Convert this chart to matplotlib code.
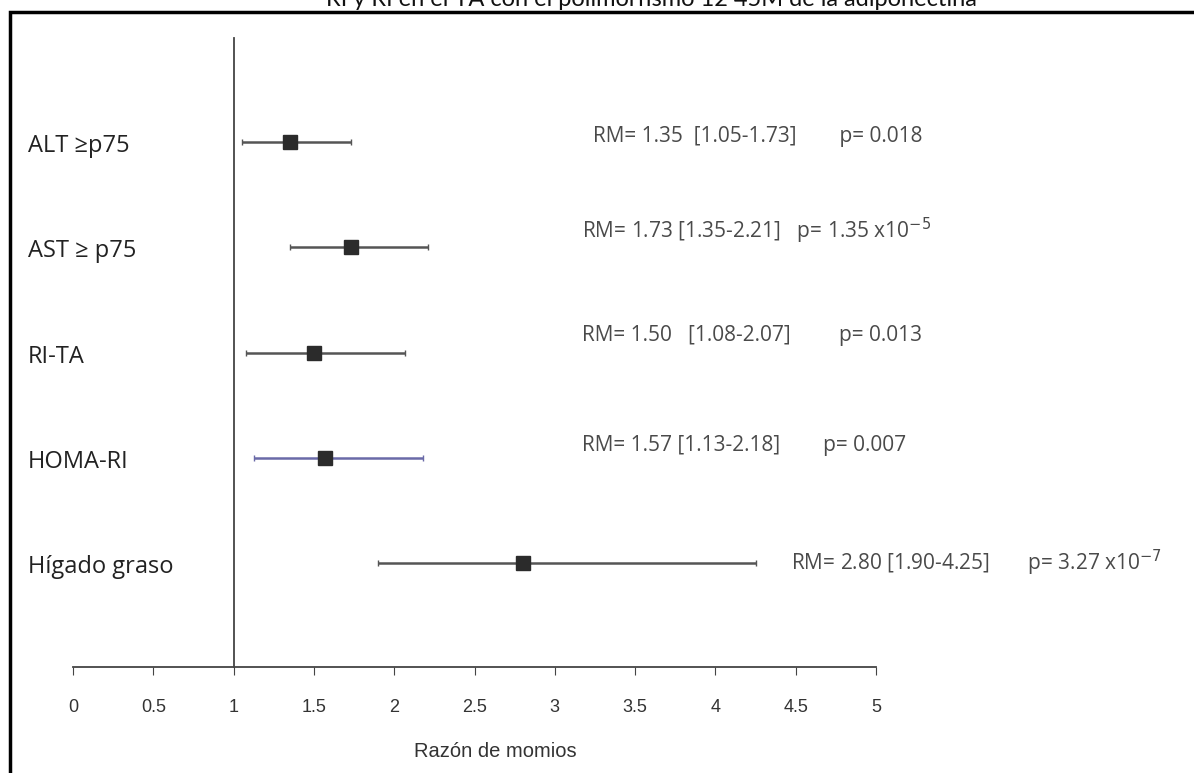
import matplotlib.pyplot as plt
from matplotlib.patches import Rectangle

# %%
labels = ['ALT \u2265p75', 'AST \u2265 p75', 'RI-TA', 'HOMA-RI', 'H\u00edgado graso']
rm = [1.35, 1.73, 1.50, 1.57, 2.80]
lo = [1.05, 1.35, 1.08, 1.13, 1.90]
hi = [1.73, 2.21, 2.07, 2.18, 4.25]
notes = ['RM= 1.35  [1.05-1.73]' + ' ' * 8 + 'p= 0.018',
         'RM= 1.73 [1.35-2.21]   p= 1.35 x10$^{-5}$',
         'RM= 1.50   [1.08-2.07]' + ' ' * 9 + 'p= 0.013',
         'RM= 1.57 [1.13-2.18]' + ' ' * 8 + 'p= 0.007',
         'RM= 2.80 [1.90-4.25]' + ' ' * 7 + 'p= 3.27 x10$^{-7}$']
ticks = [0, 0.5, 1, 1.5, 2, 2.5, 3, 3.5, 4, 4.5, 5]
tick_labels = ['0', '0.5', '1', '1.5', '2', '2.5', '3', '3.5', '4', '4.5', '5']

# pixel layout of the original picture
W, H = 1194, 773
px0, pxu = 73, 160.6      # pixel of x=0, pixels per unit
py0, pyu = 142, 105.25    # pixel of first row, pixels per row

fig = plt.figure(figsize=(W / 100, H / 100), dpi=100)
ax = fig.add_axes([0, 0, 1, 1])
ax.set_xlim(-px0 / pxu, (W - px0) / pxu)
ax.set_ylim((H - py0) / pyu, -py0 / pyu)
ax.patch.set_alpha(0)

rows = list(range(len(labels)))
line_cols = ['#555555', '#555555', '#555555', '#6a6aa8', '#555555']
for i in rows:
    ax.errorbar(rm[i], i, xerr=[[rm[i] - lo[i]], [hi[i] - rm[i]]], fmt='s',
                color='#2b2b2b', ecolor=line_cols[i], elinewidth=1.8, capsize=2,
                markersize=10)
    ax.text(-0.28, i + 0.04, labels[i], fontsize=17, family='Open Sans', color='#222222',
            va='center', ha='left')

note_x = [3.24, 3.17, 3.17, 3.17, 4.47]
note_dy = [-0.05, -0.16, -0.16, -0.12, 0.0]
for i in rows:
    ax.text(note_x[i], i + note_dy[i], notes[i], fontsize=15, family='Open Sans',
            color='#4a4a4a', va='center', ha='left')

# axes lines
axis_y = (667 - py0) / pyu
ax.spines[['top', 'right']].set_visible(False)
ax.spines['bottom'].set_position(('data', axis_y))
ax.spines['bottom'].set_bounds(0, 5)
ax.spines['left'].set_position(('data', 1))
ax.spines['left'].set_bounds((38 - py0) / pyu, axis_y)
ax.spines['bottom'].set_color('#444444')
ax.spines['left'].set_color('#444444')
ax.spines['bottom'].set_linewidth(1.3)
ax.spines['left'].set_linewidth(1.3)
ax.set_xticks(ticks)
ax.set_xticklabels(tick_labels, family='Liberation Sans', fontsize=13, color='#333333')
ax.tick_params(axis='x', direction='out', length=6, pad=17, color='#444444')
ax.set_yticks([])
ax.text((495 - px0) / pxu, (752 - py0) / pyu, 'Raz\u00f3n de momios', family='Liberation Sans',
        fontsize=14.5, color='#333333', ha='center', va='center')

# outer frame and clipped title
fig.patches.append(Rectangle((9.5 / W, -0.1), 1.2, 1 - 12.5 / H + 0.1,
                             transform=fig.transFigure, fill=False,
                             edgecolor='black', linewidth=2.5))
fig.text(651 / W, 1 + 1 / H, 'RI y RI en el TA con el polimorfismo 12 45M de la adiponectina',
         family='Lato', fontsize=17, ha='center', va='center', color='#111111')

plt.savefig('out.png', dpi=100)
